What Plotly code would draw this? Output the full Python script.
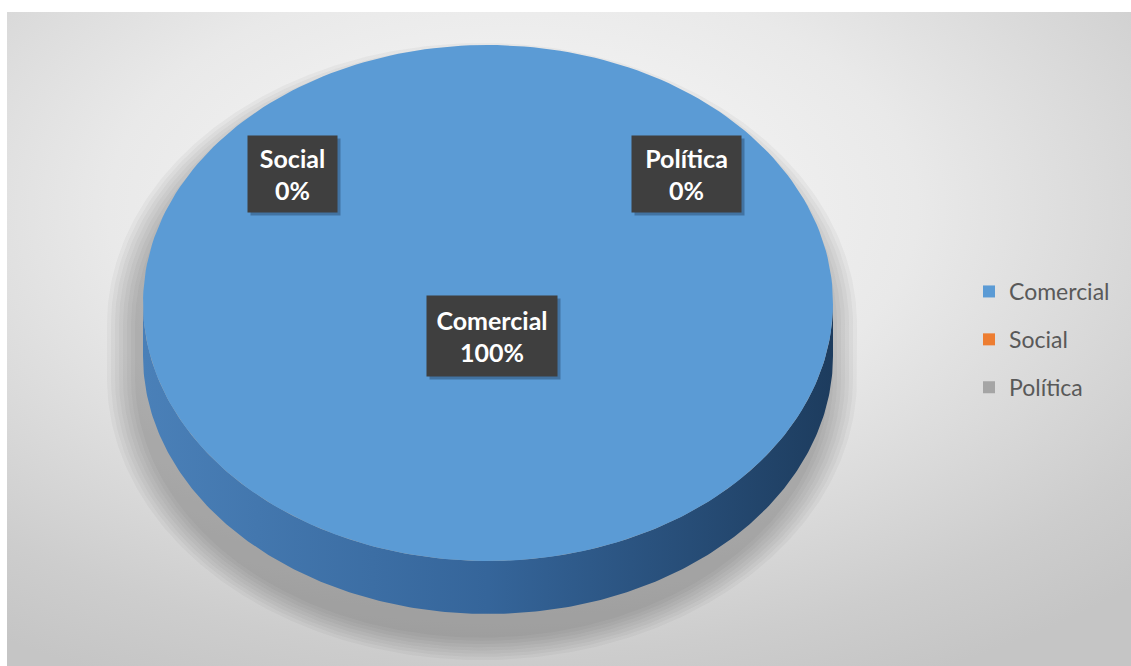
import base64
import numpy as np
import plotly.graph_objects as go

# ---- data -------------------------------------------------------------
categories = ["Comercial", "Social", "Política"]
values = [100, 0, 0]
colors = ["#5B9BD5", "#ED7D31", "#A5A5A5"]
side_scales = [
    [[0, "#4a80b8"], [0.5, "#35659a"], [1, "#1d3c5e"]],
    [[0, "#d06a28"], [1, "#8a4518"]],
    [[0, "#8f8f8f"], [1, "#5e5e5e"]],
]

# ---- geometry of the 3-D pie (canvas units, y grows downward) ---------
W, H = 1131, 666
CX, CY, RX, RY, DEPTH = 488, 303, 345, 258, 53
N = 240

# data-label boxes: (centre x, centre y, width, height)
label_boxes = {
    "Comercial": (492, 336, 130, 80),
    "Social": (292, 174, 89, 76),
    "Política": (686, 174, 109, 76),
}


def arc(a0, a1, rx=RX, ry=RY, cx=CX, cy=CY, dy=0.0, n=N):
    """Points on the ellipse, angles in degrees clockwise from 12 o'clock."""
    t = np.radians(np.linspace(a0, a1, n))
    return cx + rx * np.sin(t), cy - ry * np.cos(t) + dy


total = float(sum(values))
shares = [v / total for v in values]
starts = np.concatenate([[0.0], np.cumsum(shares)[:-1]]) * 360.0
ends = np.cumsum(shares) * 360.0

fig = go.Figure()

# soft drop shadow under the disc, cast down and slightly left
for k in range(8):
    grow = 2 + 4 * k
    rx, ry = RX + grow, RY + grow * 0.8
    xt, yt = arc(-90, 90, rx, ry, CX - 6, CY + 22)
    xb, yb = arc(90, 270, rx, ry, CX - 6, CY + 22, dy=DEPTH)
    fig.add_trace(go.Scatter(
        x=np.concatenate([xt, xb]), y=np.concatenate([yt, yb]),
        mode="lines", fill="toself", line=dict(width=0),
        fillcolor="rgba(70,70,70,0.048)", hoverinfo="skip", showlegend=False,
    ))

# side walls (only the front half, 90..270 degrees, is visible)
for cat, a0, a1, sc in zip(categories, starts, ends, side_scales):
    lo, hi = max(a0, 90.0), min(a1, 270.0)
    if hi <= lo:
        continue
    xt, yt = arc(lo, hi)
    xb, yb = arc(hi, lo, dy=DEPTH)
    fig.add_trace(go.Scatter(
        x=np.concatenate([xt, xb]), y=np.concatenate([yt, yb]),
        mode="lines", fill="toself", line=dict(width=0),
        fillgradient=dict(type="horizontal", colorscale=sc),
        hoverinfo="skip", showlegend=False, name=cat,
    ))

# top faces of the slices (empty slices collapse to nothing)
for cat, a0, a1, c, v in zip(categories, starts, ends, colors, values):
    if a1 <= a0:
        continue
    xs, ys = arc(a0, a1)
    fig.add_trace(go.Scatter(
        x=np.concatenate([[CX], xs, [CX]]), y=np.concatenate([[CY], ys, [CY]]),
        mode="lines", fill="toself", line=dict(width=0),
        fillcolor=c, name=cat, showlegend=False,
        hovertemplate=f"{cat}: {v}<extra></extra>",
    ))

# legend entries
for cat, c in zip(categories, colors):
    fig.add_trace(go.Scatter(
        x=[None], y=[None], mode="markers", name=cat, legendgroup=cat,
        marker=dict(symbol="square", size=12, color=c),
    ))

# data labels (dark callouts with a faint drop shadow)
for cat, v in zip(categories, values):
    bx, by, bw, bh = label_boxes[cat]
    pct = round(100 * v / total)
    fig.add_annotation(
        x=bx + 3, y=by + 3, xref="x", yref="y", showarrow=False, text="",
        bgcolor="rgba(20,40,70,0.35)", borderpad=0, width=bw, height=bh,
    )
    fig.add_annotation(
        x=bx, y=by, xref="x", yref="y", showarrow=False,
        text=f"<b>{cat}<br>{pct}%</b>",
        font=dict(family="Lato", size=25, color="white"),
        bgcolor="#3f3f3f", borderpad=0, width=bw, height=bh,
        align="center", valign="middle",
    )

# chart-area background with a soft radial light
svg = (
    "<svg xmlns='http://www.w3.org/2000/svg' width='1124' height='654' "
    "preserveAspectRatio='none' viewBox='0 0 1124 654'>"
    "<defs><radialGradient id='g' cx='0.45' cy='0.3' r='0.8'>"
    "<stop offset='0' stop-color='#fafafa'/>"
    "<stop offset='0.45' stop-color='#e9e9e9'/>"
    "<stop offset='0.85' stop-color='#cdcdcd'/>"
    "<stop offset='1' stop-color='#c5c5c5'/>"
    "</radialGradient></defs>"
    "<rect width='1124' height='654' fill='url(#g)'/></svg>"
)
bg_uri = "data:image/svg+xml;base64," + base64.b64encode(svg.encode()).decode()
fig.add_layout_image(
    source=bg_uri, xref="paper", yref="paper",
    x=7 / W, y=1 - 12 / H, sizex=1 - 7 / W, sizey=1 - 12 / H,
    xanchor="left", yanchor="top", sizing="stretch", layer="below",
)

fig.update_layout(
    width=W, height=H,
    margin=dict(l=0, r=0, t=0, b=0),
    paper_bgcolor="white", plot_bgcolor="rgba(0,0,0,0)",
    xaxis=dict(range=[0, W], visible=False, fixedrange=True),
    yaxis=dict(range=[H, 0], visible=False, fixedrange=True),
    showlegend=True,
    legend=dict(
        x=969 / W, y=1 - 270 / H, xanchor="left", yanchor="top",
        font=dict(family="Lato", size=23, color="#595959"),
        bgcolor="rgba(0,0,0,0)", tracegroupgap=15, itemwidth=30,
    ),
)

fig.write_html("out.html")
